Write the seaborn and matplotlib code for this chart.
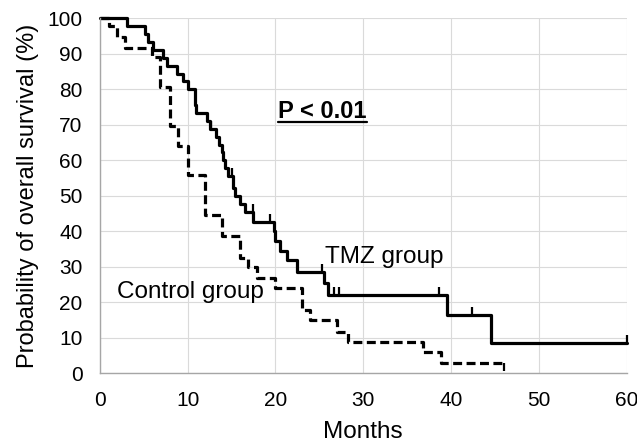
import numpy as np
import pandas as pd
import matplotlib.pyplot as plt
import seaborn as sns

# Curvas de Kaplan-Meier (meses, % de supervivencia)
tmz_meses = [0, 3.1, 5.1, 5.5, 6.1, 7.2, 7.7, 8.8, 9.5, 10.05, 10.8, 11.0, 12.2, 12.6,
             13.2, 13.6, 13.9, 14.0, 14.3, 14.6, 15.2, 15.4, 16.0, 16.5, 17.5, 19.8,
             20.0, 20.5, 21.3, 22.4, 25.5, 26.0, 39.5, 44.6, 60.0]
tmz_superv = [100, 97.8, 95.6, 93.3, 91.1, 88.9, 86.7, 84.4, 82.2, 80.0, 75.6, 73.3, 71.1, 68.9,
              66.7, 64.4, 62.2, 60.0, 57.8, 55.6, 52.2, 50.0, 47.6, 45.3, 42.5, 40.2,
              37.3, 34.5, 31.9, 28.6, 25.4, 22.1, 16.4, 8.5, 8.5]
tmz_censura = [12.7, 15.0, 17.4, 19.4, 25.3, 26.7, 27.2, 38.6, 42.4, 60.0]

control_meses = [0, 1.0, 1.9, 2.9, 5.9, 6.9, 8.0, 8.9, 10.0, 12.0, 13.9, 16.0, 16.9, 17.9,
                 20.0, 23.0, 23.9, 27.0, 28.3, 36.8, 38.9, 46.0]
control_superv = [100, 97.7, 94.6, 91.7, 89.0, 80.6, 69.7, 64.0, 55.9, 44.7, 38.7, 32.4, 29.9, 26.9,
                  24.1, 17.8, 15.0, 11.7, 8.9, 6.1, 3.0, 3.0]
control_censura = [46.0]

grupos = ['TMZ group', 'Control group']

df = pd.concat([
    pd.DataFrame({'meses': tmz_meses, 'superv': tmz_superv, 'grupo': grupos[0]}),
    pd.DataFrame({'meses': control_meses, 'superv': control_superv, 'grupo': grupos[1]}),
])

sns.set_style('whitegrid')
plt.rcParams['font.family'] = ['Liberation Sans', 'DejaVu Sans']
plt.rcParams['text.color'] = 'black'
plt.rcParams['axes.labelcolor'] = 'black'

fig, ax = plt.subplots(figsize=(6.37, 4.42), dpi=100)
fig.subplots_adjust(left=0.1567, right=0.9838, bottom=0.1554, top=0.9586)

sns.lineplot(data=df, x='meses', y='superv', style='grupo',
             dashes={grupos[0]: '', grupos[1]: (2.8, 1.4)},
             color='black', linewidth=2.3, drawstyle='steps-post',
             estimator=None, legend=False, clip_on=False, ax=ax)

# Marcas de censura (pequenas lineas verticales)
def nivel(meses, superv, t):
    i = np.searchsorted(meses, t, side='right') - 1
    return superv[i]

niv_tmz = [nivel(tmz_meses, tmz_superv, t) for t in tmz_censura]
ax.vlines(tmz_censura, niv_tmz, np.array(niv_tmz) + 2.3, color='black', linewidth=1.6, clip_on=False)
niv_ctrl = [nivel(control_meses, control_superv, t) for t in control_censura]
ax.vlines(control_censura, niv_ctrl, np.array(niv_ctrl) - 2.3, color='black', linewidth=1.6, clip_on=False)

ax.set_xlim(0, 60)
ax.set_ylim(0, 100)
ax.set_xticks(range(0, 61, 10))
ax.set_yticks(range(0, 101, 10))
ax.grid(color='#dadada', linewidth=0.8)
sns.despine(ax=ax)
for lado in ['left', 'bottom']:
    ax.spines[lado].set_color('#a6a6a6')
    ax.spines[lado].set_linewidth(1.0)
ax.tick_params(axis='both', length=5.5, width=1, color='#a6a6a6', labelsize=15, pad=7,
               labelcolor='black')

ax.set_xlabel('Months', fontsize=17.5, labelpad=8, color='black')
ax.set_ylabel('Probability of overall survival (%)', fontsize=17, labelpad=6, color='black')

ax.text(25.6, 31.1, 'TMZ group', fontsize=17.5, ha='left', va='baseline', color='black')
ax.text(2.0, 21.1, 'Control group', fontsize=17.5, ha='left', va='baseline', color='black')
p_txt = ax.text(20.3, 71.8, 'P < 0.01', fontsize=17, fontweight='bold', ha='left',
                va='baseline', color='black')

# Subrayado del valor P
fig.canvas.draw()
bb = p_txt.get_window_extent().transformed(ax.transData.inverted())
ax.plot([bb.x0, bb.x1], [71.8 - 0.95] * 2, color='black', linewidth=1.6)

fig.savefig('out.png', dpi=100)
